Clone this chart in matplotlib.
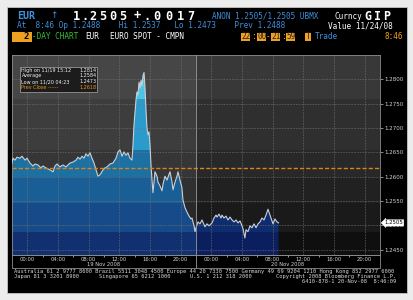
import numpy as np
import matplotlib
matplotlib.use('Agg')
import matplotlib.pyplot as plt
from matplotlib.patches import Rectangle, Polygon
import matplotlib.transforms as mtrans

W, H = 414, 300

# ---------------- data ----------------
# hours since session start (22:00 on 18 Nov 2008)
hours = [0.0, 0.13, 0.39, 0.65, 1.04, 1.30, 1.70, 1.96, 2.35, 2.74, 3.00, 3.39, 3.78, 4.04,
         4.43, 4.96, 5.35, 5.61, 5.87, 6.26, 6.65, 7.04, 7.57, 7.96, 8.35, 8.61, 8.87, 9.13,
         9.39, 9.65, 9.91, 10.17, 10.43, 10.70, 10.96, 11.22, 11.48, 11.87, 12.13, 12.39,
         12.78, 13.17, 13.57, 13.83, 14.09, 14.35, 14.61, 14.87, 15.13, 15.39, 15.65, 15.78,
         15.91, 16.04, 16.17, 16.30, 16.43, 16.57, 16.70, 16.83, 16.96, 17.09, 17.22, 17.35,
         17.48, 17.61, 17.74, 17.87, 18.00, 18.13, 18.26, 18.39, 18.52, 18.65, 18.91, 19.04,
         19.30, 19.57, 19.70, 19.96, 20.22, 20.48, 20.61, 20.87, 21.00, 21.26, 21.52, 21.65,
         21.91, 22.17, 22.30, 22.57, 22.83, 23.09, 23.35, 23.48, 23.74, 23.87, 24.00, 24.26,
         24.52, 24.78, 25.17, 25.43, 25.70, 26.09, 26.35, 26.61, 26.74, 27.00, 27.26, 27.39,
         27.65, 27.91, 28.17, 28.43, 28.70, 28.96, 29.22, 29.48, 29.74, 30.00, 30.13, 30.38,
         30.52, 30.78, 31.04, 31.30, 31.57, 31.83, 32.09, 32.35, 32.61, 32.87, 33.13, 33.39,
         33.52, 33.78, 34.04, 34.30, 34.57, 34.77]
prices = [1.2628, 1.2638, 1.2634, 1.2640, 1.2638, 1.2642, 1.2634, 1.2638, 1.2628, 1.2622,
          1.2626, 1.2624, 1.2618, 1.2622, 1.2618, 1.2614, 1.2610, 1.2622, 1.2626, 1.2620,
          1.2624, 1.2620, 1.2628, 1.2630, 1.2634, 1.2640, 1.2636, 1.2642, 1.2638, 1.2647,
          1.2642, 1.2649, 1.2638, 1.2628, 1.2614, 1.2601, 1.2604, 1.2614, 1.2618, 1.2620,
          1.2626, 1.2628, 1.2638, 1.2651, 1.2655, 1.2642, 1.2651, 1.2644, 1.2649, 1.2638,
          1.2634, 1.2665, 1.2706, 1.2733, 1.2757, 1.2774, 1.2768, 1.2794, 1.2782, 1.2798,
          1.2786, 1.2807, 1.2814, 1.2782, 1.2737, 1.2700, 1.2686, 1.2692, 1.2665, 1.2624,
          1.2593, 1.2567, 1.2589, 1.2610, 1.2601, 1.2589, 1.2581, 1.2571, 1.2585, 1.2601,
          1.2593, 1.2605, 1.2610, 1.2589, 1.2573, 1.2589, 1.2601, 1.2610, 1.2593, 1.2577,
          1.2552, 1.2536, 1.2527, 1.2519, 1.2513, 1.2515, 1.2499, 1.2487, 1.2495, 1.2507,
          1.2503, 1.2511, 1.2497, 1.2503, 1.2499, 1.2505, 1.2515, 1.2521, 1.2517, 1.2523,
          1.2515, 1.2521, 1.2515, 1.2519, 1.2511, 1.2517, 1.2511, 1.2507, 1.2511, 1.2505,
          1.2509, 1.2499, 1.2493, 1.2474, 1.2491, 1.2487, 1.2499, 1.2495, 1.2503, 1.2495,
          1.2503, 1.2507, 1.2515, 1.2511, 1.2521, 1.2533, 1.2527, 1.2515, 1.2503, 1.2513,
          1.2507, 1.2505]

y_ticks = [1.2450, 1.2500, 1.2550, 1.2600, 1.2650, 1.2700, 1.2750, 1.2800]
x_tick_hours = [2, 6, 10, 14, 18, 22, 26, 30, 34, 38, 42, 46]
x_tick_labels = ['00:00', '04:00', '08:00', '12:00', '16:00', '20:00',
                 '00:00', '04:00', '08:00', '12:00', '16:00', '20:00']
x_minor_hours = [4, 8, 12, 16, 20, 28, 32, 36, 40, 44]
day_labels = ['19 Nov 2008', '20 Nov 2008']
day_centers = [12, 36]
day_split = 24
prev_close = 1.2618
last_price = 1.2505
legend_rows = [('High on 11/19 15:12', '1.2814'),
               ('Average', '1.2584'),
               ('Low on 11/20 04:23', '1.2473'),
               ('Prev Close ------', '1.2618')]

# ---------------- helpers ----------------
def fx(x):
    return x / W

def fy(y):
    return 1 - y / H

fig = plt.figure(figsize=(W / 100, H / 100), dpi=100, facecolor='#ececec')
# black terminal area
fig.patches.append(Rectangle((fx(7), fy(293)), fx(407) - fx(7), fy(7) - fy(293),
                             transform=fig.transFigure, fc='black', ec='#c4c4c4', lw=0.6, zorder=-5))

ax = fig.add_axes([fx(12), fy(255), fx(380) - fx(12), fy(55) - fy(255)])
ax.set_zorder(1)
ax.set_facecolor('#1a1a1a')
YMIN, YMAX = 1.2439, 1.2850
ax.set_xlim(0, 48)
ax.set_ylim(YMIN, YMAX)

# stepped background bands (value boundaries) and colours
band_edges = [YMAX, 1.2760, 1.2655, 1.2600, 1.2545, 1.2487, YMIN]
bg_left = ['#464646', '#3d3d3d', '#363636', '#303030', '#282828', '#1e1e1e']
bg_right = ['#383838', '#2f2f2f', '#282828', '#212121', '#1a1a1a', '#0f0f0f']
fill_left = ['#4cc4e4', '#2b9bcb', '#1d70a2', '#1a5e96', '#174a88', '#10306f']
fill_right = ['#3aa8d0', '#2588bc', '#1a5e98', '#143f80', '#0f2c6e', '#0b1f5e']

for i in range(len(band_edges) - 1):
    hi, lo = band_edges[i], band_edges[i + 1]
    ax.add_patch(Rectangle((0, lo), day_split, hi - lo, fc=bg_left[i], ec='none', zorder=0.2))
    ax.add_patch(Rectangle((day_split, lo), 48 - day_split, hi - lo, fc=bg_right[i], ec='none', zorder=0.2))

h = np.array(hours)
p = np.array(prices)
for sel, fills, x0, x1 in [(h <= day_split, fill_left, 0, day_split),
                           (h >= day_split, fill_right, day_split, 48)]:
    hh, pp = h[sel], p[sel]
    verts = [(hh[0], YMIN)] + list(zip(hh, pp)) + [(hh[-1], YMIN)]
    clip = Polygon(verts, closed=True, fc='none', ec='none', transform=ax.transData)
    ax.add_patch(clip)
    for i in range(len(band_edges) - 1):
        hi, lo = band_edges[i], band_edges[i + 1]
        r = Rectangle((x0, lo), x1 - x0, hi - lo, fc=fills[i], ec='none', zorder=1)
        ax.add_patch(r)
        r.set_clip_path(clip)

# grid
for yt in y_ticks:
    ax.axhline(yt, color='#767676', lw=0.5, dashes=(2.5, 1.5), zorder=2, alpha=0.75)
for xt in x_tick_hours:
    ax.axvline(xt, color='#767676', lw=0.5, dashes=(2.5, 1.5), zorder=2, alpha=0.75)

ax.plot(h, p, color='#c8d0da', lw=0.8, zorder=3)
ax.axhline(prev_close, color='#d8841c', lw=1.0, dashes=(3, 1.5), zorder=3.5)
ax.axvline(day_split, color='#9a9a9a', lw=0.6, zorder=3.6)
trans = mtrans.blended_transform_factory(ax.transData, ax.transAxes)
ax.plot([day_split, day_split], [0, -0.0625], color='#9a9a9a', lw=0.6, transform=trans, clip_on=False)

for s in ax.spines.values():
    s.set_color('#8c8c8c')
    s.set_linewidth(0.6)

ax.set_xticks(x_tick_hours)
ax.set_xticklabels(x_tick_labels)
ax.set_xticks(x_minor_hours, minor=True)
ax.tick_params(axis='x', which='major', length=0, pad=1.4, labelsize=3.8, labelcolor='#d4d4d4')
ax.tick_params(axis='x', which='minor', length=1.5, width=0.5, color='#d0d0d0', direction='out')
ax.yaxis.tick_right()
ax.set_yticks(y_ticks)
ax.set_yticklabels([f'{v:.4f}' for v in y_ticks])
ax.tick_params(axis='y', length=2, width=0.5, color='#c0c0c0', pad=1, labelsize=4.0, labelcolor='#d4d4d4')

for lab, c in zip(day_labels, day_centers):
    ax.text(c, -0.045, lab, transform=trans, ha='center', va='center', fontsize=3.7,
            color='#d4d4d4', clip_on=False)

# x axis box
fig.patches.append(Rectangle((fx(12), fy(267.5)), fx(380) - fx(12), fy(255) - fy(267.5),
                             transform=fig.transFigure, fc='none', ec='#8c8c8c', lw=0.6, zorder=2))

# last price tag
ax.text(1.012, last_price, f'{last_price:.4f}', transform=ax.get_yaxis_transform(),
        ha='left', va='center', fontsize=3.9, color='black', zorder=10, clip_on=False,
        bbox=dict(boxstyle='larrow,pad=0.12', fc='white', ec='white', lw=0.3))

# legend box
fig.patches.append(Rectangle((fx(20), fy(92)), fx(97.5) - fx(20), fy(67) - fy(92),
                             transform=fig.transFigure, fc='#1c1c1c', ec='#a8a8a8', lw=0.5, zorder=5))
for i, (l, v) in enumerate(legend_rows):
    yy = 70.3 + i * 5.6
    col = '#e8901c' if i == 3 else '#f0f0f0'
    fig.text(fx(21.5), fy(yy), l, fontsize=3.5, color=col, va='center', ha='left', zorder=6)
    fig.text(fx(96.5), fy(yy), v, fontsize=3.5, color=col, va='center', ha='right', zorder=6)

# ---------------- header ----------------
BLUE = '#3f8fdc'
ORANGE = '#f0a020'
GREEN = '#34c034'
mono = 'DejaVu Sans Mono'

fig.text(fx(17), fy(16), 'EUR', color=BLUE, fontsize=7.2, weight='bold', family=mono, va='center')
fig.text(fx(50), fy(16), '↑', color=BLUE, fontsize=6.5, family='DejaVu Sans', va='center')
big1_x = [76, 84.5, 93, 103, 113, 123]
for xc, ch in zip(big1_x, '1.2505'):
    fig.text(fx(xc), fy(16), ch, color='white', fontsize=8.6, weight='bold',
             family=mono, va='center', ha='center')
big2_x = [137, 146.5, 157, 169, 180, 191]
for xc, ch in zip(big2_x, '+.0017'):
    fig.text(fx(xc), fy(16), ch, color='white', fontsize=8.6, weight='bold',
             family=mono, va='center', ha='center')
fig.text(fx(212), fy(16), 'ANON 1.2505/1.2505 UBMX', color=BLUE, fontsize=5.5, family=mono, va='center')
fig.text(fx(335), fy(16.5), 'Curncy', color='white', fontsize=5.5, family=mono, va='center')
for xc, ch in zip([368, 377.5, 387], 'GIP'):
    fig.text(fx(xc), fy(16), ch, color='white', fontsize=8.4, weight='bold',
             family=mono, va='center', ha='center')

fig.text(fx(17), fy(25.7), 'At  8:46 Op 1.2488    Hi 1.2537   Lo 1.2473    Prev 1.2488',
         color=BLUE, fontsize=5.6, family=mono, va='center')
fig.text(fx(393), fy(25.7), 'Value 11/24/08', color='white', fontsize=5.6, family=mono,
         va='center', ha='right')

# row 3
fig.patches.append(Rectangle((fx(12), fy(41.5)), fx(32) - fx(12), fy(32) - fy(41.5),
                             transform=fig.transFigure, fc=ORANGE, ec='none', zorder=1))
fig.text(fx(26), fy(36.8), '2', color='black', fontsize=6.5, family=mono, va='center', ha='center', weight='bold')
fig.text(fx(32), fy(36.8), '-DAY CHART', color=GREEN, fontsize=5.6, family=mono, va='center')
fig.text(fx(85), fy(36.8), 'EUR', color='white', fontsize=5.6, family=mono, va='center')
fig.text(fx(110), fy(36.8), 'EURO SPOT - CMPN', color='white', fontsize=5.6, family=mono, va='center')
for xs, txt in [(241, '22'), (257, '00'), (271, '21'), (286, '59')]:
    fig.patches.append(Rectangle((fx(xs), fy(41)), fx(xs + 9.5) - fx(xs), fy(32.5) - fy(41),
                                 transform=fig.transFigure, fc=ORANGE, ec='none', zorder=1))
    fig.text(fx(xs + 4.75), fy(36.8), txt, color='#202020', fontsize=5.6, family=mono,
             va='center', ha='center')
fig.text(fx(253.5), fy(36.8), ':', color=ORANGE, fontsize=5.6, family=mono, va='center', ha='center')
fig.text(fx(268.3), fy(36.8), '-', color=ORANGE, fontsize=5.6, family=mono, va='center', ha='center')
fig.text(fx(283.3), fy(36.8), ':', color=ORANGE, fontsize=5.6, family=mono, va='center', ha='center')
fig.patches.append(Rectangle((fx(304.5), fy(41)), fx(311) - fx(304.5), fy(32.5) - fy(41),
                             transform=fig.transFigure, fc=ORANGE, ec='none', zorder=1))
fig.text(fx(307.8), fy(36.8), 'T', color='#202020', fontsize=5.6, family=mono, va='center', ha='center')
fig.text(fx(315), fy(36.8), 'Trade', color=BLUE, fontsize=5.6, family=mono, va='center')
fig.text(fx(403), fy(36.8), '8:46', color=ORANGE, fontsize=5.6, family=mono, va='center', ha='right')

# ---------------- footer ----------------
FOOT = '#d8d8d8'
fig.text(fx(14), fy(271.7), 'Australia 61 2 9777 8600 Brazil 5511 3048 4500 Europe 44 20 7330 7500 '
         'Germany 49 69 9204 1210 Hong Kong 852 2977 6000', color=FOOT, fontsize=3.9,
         family=mono, va='center')
fig.text(fx(14), fy(276.7), 'Japan 81 3 3201 8900', color=FOOT, fontsize=3.9, family=mono, va='center')
fig.text(fx(99), fy(276.7), 'Singapore 65 6212 1000', color=FOOT, fontsize=3.9, family=mono, va='center')
fig.text(fx(190), fy(276.7), 'U.S. 1 212 318 2000', color=FOOT, fontsize=3.9, family=mono, va='center')
fig.text(fx(396), fy(276.7), 'Copyright 2008 Bloomberg Finance L.P.', color=FOOT, fontsize=3.9,
         family=mono, va='center', ha='right')
fig.text(fx(396), fy(281.7), '6410-878-1 20-Nov-08  8:46:09', color=FOOT, fontsize=3.9,
         family=mono, va='center', ha='right')

fig.savefig('out.png', dpi=100, facecolor=fig.get_facecolor())
